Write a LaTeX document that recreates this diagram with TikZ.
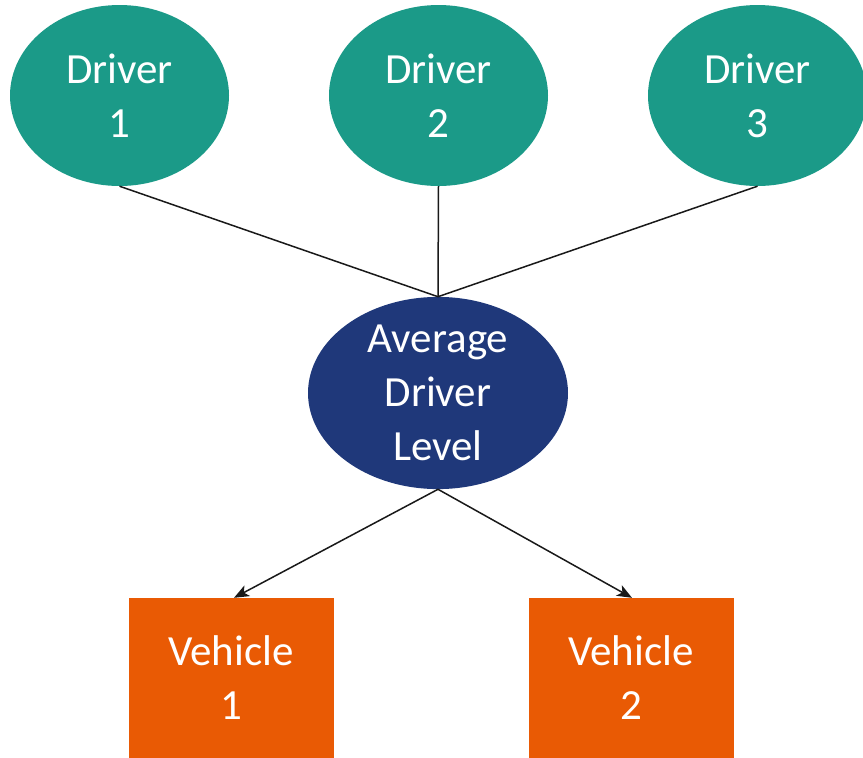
\documentclass[tikz,border=0pt]{standalone}
\usepackage{fontspec}
\setmainfont{Carlito}
\usetikzlibrary{shapes.geometric,arrows.meta}
\definecolor{driverteal}{HTML}{1B9A88}
\definecolor{avgnavy}{HTML}{1F387A}
\definecolor{vehorange}{HTML}{E95A04}
\tikzset{
  lbl/.style={text=white, align=center, inner sep=0pt,
    font=\fontsize{43}{54}\selectfont},
  driver/.style={lbl, ellipse, fill=driverteal, minimum width=219pt, minimum height=181pt},
  average/.style={lbl, ellipse, fill=avgnavy, minimum width=260pt, minimum height=182pt},
  vehicle/.style={lbl, rectangle, fill=vehorange, minimum width=205pt, minimum height=160pt},
  link/.style={draw=black!90, line width=1.5pt},
  feed/.style={link, -{Stealth[length=15pt, width=12pt, inset=4pt]}}
}
\begin{document}
\begin{tikzpicture}[x=1pt, y=-1pt]
  \useasboundingbox (0,0) rectangle (863,758);
  % drivers
  \node[driver] (d1) at (119.5,95.5) {Driver\\1};
  \node[driver] (d2) at (438.5,95.5) {Driver\\2};
  \node[driver] (d3) at (757.5,95.5) {Driver\\3};
  % aggregate level
  \node[average] (avg) at (438,393) {Average\\Driver\\Level};
  % vehicles
  \node[vehicle] (v1) at (231,678) {Vehicle\\1};
  \node[vehicle] (v2) at (631,678) {Vehicle\\2};
  % connectors
  \draw[link] (d1.south) -- (avg.north);
  \draw[link] (d2.south) -- (avg.north);
  \draw[link] (d3.south) -- (avg.north);
  \draw[feed] (avg.south) -- ([xshift=3pt]v1.north);
  \draw[feed] (avg.south) -- ([xshift=1pt]v2.north);
\end{tikzpicture}
\end{document}
